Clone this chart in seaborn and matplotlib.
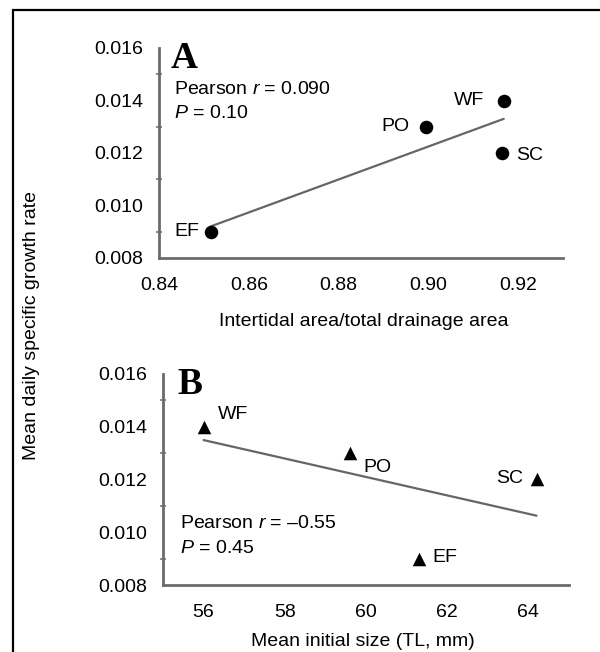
import matplotlib
matplotlib.use("Agg")
import matplotlib.pyplot as plt
import seaborn as sns
import pandas as pd
from matplotlib.patches import Rectangle
from matplotlib.ticker import MultipleLocator

sites_a = ["EF", "PO", "WF", "SC"]
area_ratio = [0.8515, 0.8995, 0.9168, 0.9165]
growth_a = [0.009, 0.013, 0.014, 0.012]

sites_b = ["WF", "PO", "SC", "EF"]
init_size = [56.0, 59.6, 64.2, 61.3]
growth_b = [0.014, 0.013, 0.012, 0.009]

yticks = [0.008, 0.010, 0.012, 0.014, 0.016]
xticks_a = [0.84, 0.86, 0.88, 0.90, 0.92]
xticks_b = [56, 58, 60, 62, 64]

sns.set_theme(style="white")
plt.rcParams["font.family"] = ["Liberation Sans", "DejaVu Sans"]
plt.rcParams["mathtext.fontset"] = "custom"
plt.rcParams["mathtext.rm"] = "Liberation Sans"
plt.rcParams["mathtext.it"] = "Liberation Sans:italic"
plt.rcParams["text.color"] = "black"
plt.rcParams["axes.labelcolor"] = "black"

FS = 14
df_a = pd.DataFrame({"x": area_ratio, "y": growth_a, "site": sites_a})
df_b = pd.DataFrame({"x": init_size, "y": growth_b, "site": sites_b})

fig = plt.figure(figsize=(6.0, 6.52), dpi=100)
ax_a = fig.add_axes([159/600, 1-258/652, (563-159)/600, 210/652])
ax_b = fig.add_axes([163/600, 1-585/652, (569-163)/600, 211/652])

spine_col = "#6b6b6b"
line_col = "#666666"

def style(ax, xticks, xlim, xfmt):
    ax.set_xlim(*xlim)
    ax.set_ylim(0.008, 0.016)
    ax.set_yticks(yticks)
    ax.set_yticklabels([f"{v:.3f}" for v in yticks], fontsize=FS)
    ax.set_xticks(xticks)
    ax.set_xticklabels([xfmt(v) for v in xticks], fontsize=FS)
    ax.yaxis.set_minor_locator(MultipleLocator(0.001))
    for s in ["top", "right"]:
        ax.spines[s].set_visible(False)
    for s in ["left", "bottom"]:
        ax.spines[s].set_color(spine_col)
        ax.spines[s].set_linewidth(2.0)
    ax.tick_params(axis="both", which="major", direction="inout", length=5,
                   width=1.5, color="#555555", labelcolor="black")
    ax.tick_params(axis="x", which="major", pad=11)
    ax.tick_params(axis="y", which="major", pad=9)
    ax.tick_params(axis="y", which="minor", direction="inout", length=4,
                   width=1.2, color="#777777", left=True)
    ax.set_xlabel("")
    ax.set_ylabel("")
    ax.patch.set_alpha(0)

# Panel A
sns.regplot(data=df_a, x="x", y="y", ax=ax_a, scatter=False, ci=None,
            color=line_col, line_kws={"linewidth": 1.6})
sns.scatterplot(data=df_a, x="x", y="y", ax=ax_a, color="black", s=95,
                marker="o", edgecolor="black", linewidth=0, zorder=5)
style(ax_a, xticks_a, (0.84, 0.93), lambda v: f"{v:.2f}")

offs_a = {"EF": (-8, 0, "right"), "PO": (-12, 0, "right"),
          "WF": (-14, 0, "right"), "SC": (10, -2, "left")}
for s, x, y in zip(sites_a, area_ratio, growth_a):
    dx, dy, ha = offs_a[s]
    ax_a.annotate(s, (x, y), xytext=(dx, dy), textcoords="offset points",
                  ha=ha, va="center", fontsize=FS)

ax_a.text(0.030, 0.905, "A", transform=ax_a.transAxes, fontsize=27,
          fontweight="bold", family="Liberation Serif", va="baseline", ha="left")
ax_a.text(0.038, 0.80, "Pearson $\\it{r}$ = 0.090", transform=ax_a.transAxes,
          fontsize=FS, va="center", ha="left")
ax_a.text(0.038, 0.69, "$\\it{P}$ = 0.10", transform=ax_a.transAxes,
          fontsize=FS, va="center", ha="left")

# Panel B
sns.regplot(data=df_b, x="x", y="y", ax=ax_b, scatter=False, ci=None,
            color=line_col, line_kws={"linewidth": 1.6})
sns.scatterplot(data=df_b, x="x", y="y", ax=ax_b, color="black", s=95,
                marker="^", edgecolor="black", linewidth=0, zorder=5)
style(ax_b, xticks_b, (55, 65), lambda v: f"{v:d}")

offs_b = {"WF": (10, 9, "left"), "PO": (10, -10, "left"),
          "SC": (-10, 1, "right"), "EF": (10, 1, "left")}
for s, x, y in zip(sites_b, init_size, growth_b):
    dx, dy, ha = offs_b[s]
    ax_b.annotate(s, (x, y), xytext=(dx, dy), textcoords="offset points",
                  ha=ha, va="center", fontsize=FS)

ax_b.text(0.036, 0.905, "B", transform=ax_b.transAxes, fontsize=27,
          fontweight="bold", family="Liberation Serif", va="baseline", ha="left")
ax_b.text(0.043, 0.29, "Pearson $\\it{r}$ = \u20130.55", transform=ax_b.transAxes,
          fontsize=FS, va="center", ha="left")
ax_b.text(0.043, 0.175, "$\\it{P}$ = 0.45", transform=ax_b.transAxes,
          fontsize=FS, va="center", ha="left")

# Axis labels
fig.text(364/600, 1-322/652, "Intertidal area/total drainage area",
         ha="center", va="center", fontsize=FS)
fig.text(363/600, 1-641/652, "Mean initial size (TL, mm)",
         ha="center", va="center", fontsize=FS)
fig.text(32/600, 1-325/652, "Mean daily specific growth rate",
         ha="center", va="center", rotation=90, fontsize=FS)

# Frame
fig.patches.append(Rectangle((13/600, -0.05), 1.0, 1 - 10/652 + 0.05,
                             transform=fig.transFigure, fill=False,
                             edgecolor="black", linewidth=1.6))

fig.savefig("out.png", dpi=100)
